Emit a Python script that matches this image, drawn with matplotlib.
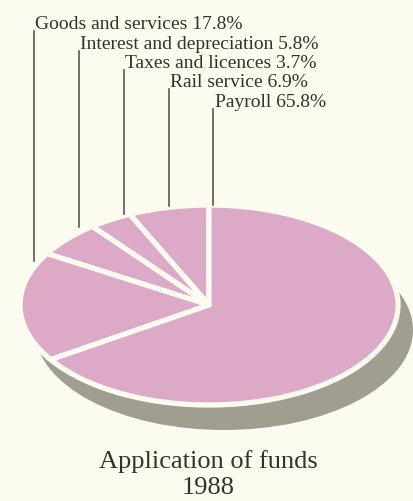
import matplotlib.pyplot as plt

# spending split, counterclockwise from 12 o'clock
categories = ["Rail service", "Taxes and licences", "Interest and depreciation",
              "Goods and services", "Payroll"]
shares = [6.9, 3.7, 5.8, 17.8, 65.8]
title_lines = ["Application of funds", "1988"]

# label stack, top to bottom
label_order = ["Goods and services", "Interest and depreciation",
               "Taxes and licences", "Rail service", "Payroll"]
label_x = [35, 80, 125, 170, 215]
label_base = [29, 49, 68, 87, 107]
leader_x = [34, 79, 124, 169, 213]
leader_bottom = [262, 228, 215, 207, 206]

BG = "#fcfbf0"
PINK = "#dcaac6"
SHADOW = "#a09e90"
INK = "#33332e"

W, H = 414, 502
fig = plt.figure(figsize=(W / 100, H / 100), dpi=100)
fig.patch.set_facecolor(BG)

# pie drawn as a unit circle, then squashed into an ellipse by the axis limits
cx, cy, rx, ry = 209, 306, 189, 100
pie_ax = fig.add_axes([0, 0, 1, 1])
pie_ax.pie([100], colors=[SHADOW], radius=1, center=(15 / rx, -25 / ry),
           wedgeprops=dict(linewidth=0))
pie_ax.pie(shares, colors=[PINK] * len(shares), startangle=90, counterclock=True,
           radius=1, wedgeprops=dict(edgecolor=BG, linewidth=3.8))
pie_ax.set_aspect("auto")
pie_ax.set_xlim(-cx / rx, (W - cx) / rx)
pie_ax.set_ylim(-(H - cy) / ry, cy / ry)
pie_ax.axis("off")

# overlay in pixel units for labels and leader lines
over = fig.add_axes([0, 0, 1, 1])
over.set_xlim(0, W)
over.set_ylim(H, 0)
over.patch.set_alpha(0)
over.axis("off")

serif = ["Liberation Serif", "DejaVu Serif"]
for name, x, yb, lx, lb in zip(label_order, label_x, label_base, leader_x, leader_bottom):
    val = shares[categories.index(name)]
    over.text(x, yb, f"{name} {val}%", fontsize=14, family=serif,
              color=INK, va="baseline", ha="left")
    over.plot([lx, lx], [yb + 3, lb], color="#4a4a44", linewidth=1.1)

over.text(208, 468, title_lines[0], fontsize=19, family=serif, color=INK,
          ha="center", va="baseline")
over.text(208, 494, title_lines[1], fontsize=19, family=serif, color=INK,
          ha="center", va="baseline")

fig.savefig("out.png", dpi=100, facecolor=BG)
